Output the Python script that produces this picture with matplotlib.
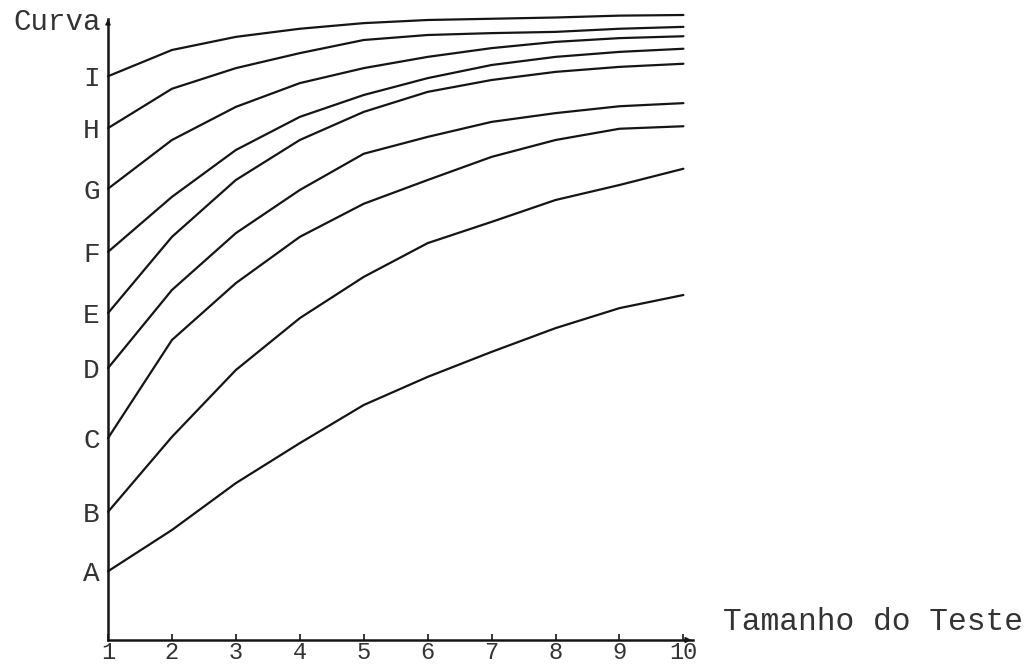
import numpy as np
import matplotlib
matplotlib.use("Agg")
import matplotlib.pyplot as plt

# tamanho do teste (eixo x)
tamanho = [1, 2, 3, 4, 5, 6, 7, 8, 9, 10]

# curvas A..I (unidades arbitrarias, 0 = eixo x)
curva_A = [11.0, 17.6, 25.1, 31.5, 37.6, 42.1, 46.1, 49.9, 53.1, 55.2]
curva_B = [20.5, 32.5, 43.2, 51.5, 58.1, 63.5, 66.9, 70.4, 72.8, 75.4]
curva_C = [32.3, 48.0, 57.1, 64.5, 69.8, 73.6, 77.3, 80.0, 81.8, 82.2]
curva_D = [43.5, 56.0, 65.1, 72.0, 77.8, 80.5, 82.9, 84.3, 85.4, 85.9]
curva_E = [52.3, 64.5, 73.6, 80.0, 84.5, 87.7, 89.6, 90.9, 91.7, 92.2]
curva_F = [62.1, 70.9, 78.4, 83.7, 87.2, 89.9, 92.0, 93.3, 94.1, 94.6]
curva_G = [72.2, 80.0, 85.3, 89.1, 91.5, 93.3, 94.7, 95.7, 96.3, 96.6]
curva_H = [81.9, 88.2, 91.5, 93.9, 96.0, 96.8, 97.1, 97.3, 97.8, 98.1]
curva_I = [90.2, 94.4, 96.5, 97.8, 98.7, 99.2, 99.4, 99.6, 99.9, 100.0]

nomes = ["A", "B", "C", "D", "E", "F", "G", "H", "I"]
curvas = [curva_A, curva_B, curva_C, curva_D, curva_E,
          curva_F, curva_G, curva_H, curva_I]

fonte = "Liberation Mono"
cor_txt = "#333333"
cor_lin = "#151515"

fig = plt.figure(figsize=(10.32, 6.69), dpi=100)
ax = fig.add_axes([108 / 1032, 29 / 669, 585 / 1032, 625 / 669])

for c in curvas:
    ax.plot(tamanho, c, color=cor_lin, lw=1.6, solid_capstyle="round",
            solid_joinstyle="round", clip_on=False)

ax.set_xlim(1, 10.15)
ax.set_ylim(0, 100)

for s in ["top", "right"]:
    ax.spines[s].set_visible(False)
for s in ["left", "bottom"]:
    ax.spines[s].set_linewidth(1.8)
    ax.spines[s].set_color(cor_lin)
ax.spines["left"].set_bounds(0, 99.4)

# pontas de seta
ax.annotate("", xy=(10.17, 0), xytext=(10.0, 0),
            arrowprops=dict(arrowstyle="-|>", color=cor_lin, lw=1.2,
                            mutation_scale=8), annotation_clip=False)
ax.annotate("", xy=(1, 99.8), xytext=(1, 98.5),
            arrowprops=dict(arrowstyle="-|>", color=cor_lin, lw=1.2,
                            mutation_scale=7), annotation_clip=False)

ax.set_xticks(tamanho)
ax.set_xticklabels([str(t) for t in tamanho], fontfamily=fonte,
                   fontsize=17, color=cor_txt)
ax.tick_params(axis="x", direction="in", length=4, width=1.2,
               color=cor_lin, pad=1)

ax.set_yticks([c[0] for c in curvas])
ax.set_yticklabels(nomes, fontfamily=fonte, fontsize=20, color=cor_txt)
ax.tick_params(axis="y", length=0, pad=6)

ax.text(-0.012, 98.9, "Curva", transform=ax.get_yaxis_transform(),
        ha="right", va="center", fontfamily=fonte, fontsize=21,
        color=cor_txt, clip_on=False)
ax.text(10.62, 2.9, "Tamanho do Teste", ha="left", va="center",
        fontfamily=fonte, fontsize=22.5, color=cor_txt, clip_on=False)

fig.savefig("out.png", dpi=100, facecolor="white")
